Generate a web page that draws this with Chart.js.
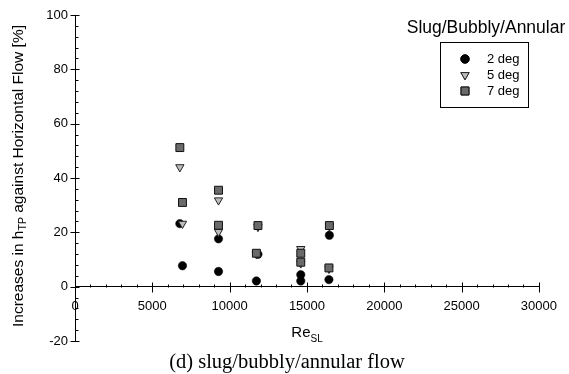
<!DOCTYPE html>
<html>
<head>
<meta charset="utf-8">
<script src="https://cdn.jsdelivr.net/npm/chart.js@4/dist/chart.umd.min.js"></script>
<style>
html, body { margin: 0; padding: 0; background: #fff; }
#wrap { width: 569px; height: 374px; }
</style>
</head>
<body>
<div id="wrap"><canvas id="reChart"></canvas></div>
<script>
// Re_SL for each measurement, shared by the three inclinations
const reSL = [6780, 6950, 9280, 9280, 11830, 11730, 14600, 14600, 16450, 16420];
const deg2 = [23.2, 7.7, 17.6, 5.6, 11.9, 2.1, 4.4, 2.1, 18.9, 2.6];
const deg5 = [44.0, 23.2, 31.8, 20.2, 22.0, 12.0, 13.9, 8.6, 22.2, 6.6];
const deg7 = [51.2, 31.0, 35.5, 22.6, 22.5, 12.3, 12.3, 9.0, 22.5, 6.9];
const seriesNames = ['2 deg', '5 deg', '7 deg'];
const xRange = [0, 30000];
const yRange = [-20, 100];

const FONT = '"Liberation Sans", Arial, sans-serif';

function toPoints(ys) {
    return ys.map((v, i) => ({ x: reSL[i], y: v }));
}

// minor/major tick marks, axis titles, caption and the boxed legend
const decorPlugin = {
    id: 'decor',
    afterDraw(chart) {
        const ctx = chart.ctx;
        const xs = chart.scales.x, ys = chart.scales.y;
        const ax = Math.round(chart.chartArea.left) + 0.5;
        const ay = Math.round(ys.getPixelForValue(0)) + 0.5;
        ctx.save();
        ctx.strokeStyle = '#000';
        ctx.lineWidth = 1;
        ctx.beginPath();
        for (let v = yRange[0]; v <= yRange[1]; v += 4) {
            const py = Math.round(ys.getPixelForValue(v)) + 0.5;
            if (v % 20 === 0) { ctx.moveTo(ax - 5, py); ctx.lineTo(ax + 4, py); }
            else { ctx.moveTo(ax, py); ctx.lineTo(ax + 3, py); }
        }
        for (let v = xRange[0] + 1000; v <= xRange[1]; v += 1000) {
            const px = Math.round(xs.getPixelForValue(v)) + 0.5;
            if (v % 5000 === 0) { ctx.moveTo(px, ay - 5); ctx.lineTo(px, ay + 5); }
            else { ctx.moveTo(px, ay); ctx.lineTo(px, ay - 3); }
        }
        ctx.stroke();

        ctx.fillStyle = '#000';
        // y axis title with subscript
        ctx.save();
        ctx.translate(19, 176);
        ctx.rotate(-Math.PI / 2);
        const parts = [['Increases in h', 15.5, 0], ['TP', 10.5, 4], [' against Horizontal Flow [%]', 15.5, 0]];
        let total = 0;
        parts.forEach(p => { ctx.font = p[1] + 'px ' + FONT; total += ctx.measureText(p[0]).width; });
        let cx = -total / 2;
        ctx.textBaseline = 'middle';
        ctx.textAlign = 'left';
        parts.forEach(p => {
            ctx.font = p[1] + 'px ' + FONT;
            ctx.fillText(p[0], cx, p[2]);
            cx += ctx.measureText(p[0]).width;
        });
        ctx.restore();

        // x axis title Re_SL
        ctx.textBaseline = 'middle';
        ctx.textAlign = 'left';
        ctx.font = '15px ' + FONT;
        const wRe = ctx.measureText('Re').width;
        ctx.font = '10px ' + FONT;
        const wSL = ctx.measureText('SL').width;
        let tx = 307 - (wRe + wSL) / 2;
        ctx.font = '15px ' + FONT;
        ctx.fillText('Re', tx, 333);
        ctx.font = '10px ' + FONT;
        ctx.fillText('SL', tx + wRe, 339);

        // caption
        ctx.textAlign = 'center';
        ctx.font = '20.5px "Liberation Serif", "Times New Roman", serif';
        ctx.fillText('(d) slug/bubbly/annular flow', 287, 363);

        // legend title and box
        ctx.font = '17.5px ' + FONT;
        ctx.fillText('Slug/Bubbly/Annular', 486, 28);
        ctx.strokeRect(440.5, 42.5, 88, 65);
        ctx.textAlign = 'left';
        ctx.font = '13px ' + FONT;
        const rows = [59, 75, 91];
        chart.data.datasets.forEach((ds, i) => {
            Chart.helpers.drawPoint(ctx, {
                pointStyle: ds.pointStyle,
                radius: ds.pointRadius,
                rotation: ds.rotation || 0,
                borderWidth: ds.borderWidth
            }, 465, rows[i]);
            ctx.fillStyle = ds.backgroundColor;
            ctx.strokeStyle = ds.borderColor;
            ctx.lineWidth = ds.borderWidth;
            ctx.fill();
            if (ds.borderWidth) ctx.stroke();
            ctx.fillStyle = '#000';
            ctx.fillText(ds.label, 487, rows[i]);
        });
        ctx.restore();
    }
};

const ctx = document.getElementById('reChart').getContext('2d');
new Chart(ctx, {
    type: 'scatter',
    data: {
        datasets: [{
            label: seriesNames[0],
            data: toPoints(deg2),
            pointStyle: 'circle',
            pointRadius: 4.2,
            backgroundColor: '#000',
            borderColor: '#000',
            borderWidth: 0.5,
            order: 3
        }, {
            label: seriesNames[1],
            data: toPoints(deg5),
            pointStyle: 'triangle',
            rotation: 180,
            pointRotation: 180,
            pointRadius: 4.8,
            backgroundColor: '#bdbdbd',
            borderColor: '#222',
            borderWidth: 1,
            order: 2
        }, {
            label: seriesNames[2],
            data: toPoints(deg7),
            pointStyle: 'rect',
            pointRadius: 5.6,
            backgroundColor: '#6a6a6a',
            borderColor: '#111',
            borderWidth: 1,
            order: 1
        }]
    },
    options: {
        responsive: true,
        maintainAspectRatio: false,
        animation: false,
        layout: { padding: { left: 0, top: 15, right: 29, bottom: 33 } },
        plugins: {
            legend: { display: false },
            tooltip: { enabled: false }
        },
        scales: {
            x: {
                type: 'linear',
                position: { y: 0 },
                min: xRange[0],
                max: xRange[1],
                grid: { display: false, drawTicks: false },
                border: { display: true, color: '#000', width: 1 },
                ticks: {
                    stepSize: 5000,
                    padding: 12,
                    color: '#000',
                    font: { family: FONT, size: 13 },
                    maxRotation: 0,
                    callback: v => String(v)
                }
            },
            y: {
                type: 'linear',
                position: 'left',
                min: yRange[0],
                max: yRange[1],
                afterFit: s => { s.width = 75; },
                grid: { display: false, drawTicks: false },
                border: { display: true, color: '#000', width: 1 },
                ticks: {
                    stepSize: 20,
                    padding: 7,
                    color: '#000',
                    font: { family: FONT, size: 13 },
                    callback: v => String(v)
                }
            }
        }
    },
    plugins: [decorPlugin]
});
</script>
</body>
</html>
